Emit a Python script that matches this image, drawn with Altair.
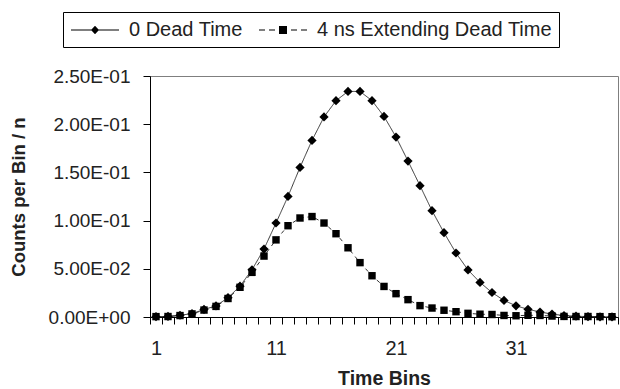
import altair as alt
import pandas as pd

# Time bin index (category axis)
bins = list(range(1, 40))

# Counts per bin / n for each dead-time model
zero_dead = [
    0.0003, 0.0006, 0.0018, 0.0035, 0.0078, 0.0115, 0.0200, 0.0320, 0.0490, 0.0705,
    0.0975, 0.1251, 0.1552, 0.1832, 0.2075, 0.2244, 0.2340, 0.2340, 0.2244, 0.2081,
    0.1867, 0.1618, 0.1362, 0.1103, 0.0875, 0.0664, 0.0488, 0.0359, 0.0254, 0.0172,
    0.0116, 0.0080, 0.0052, 0.0030, 0.0015, 0.0008, 0.0004, 0.0002, 0.0001,
]
ext_dead = [
    0.0004, 0.0005, 0.0015, 0.0032, 0.0072, 0.0110, 0.0192, 0.0308, 0.0463, 0.0632,
    0.0800, 0.0947, 0.1027, 0.1042, 0.0975, 0.0864, 0.0718, 0.0564, 0.0428, 0.0317,
    0.0242, 0.0180, 0.0118, 0.0093, 0.0070, 0.0055, 0.0038, 0.0029, 0.0026, 0.0016,
    0.0013, 0.0018, 0.0016, 0.0010, 0.0006, 0.0005, 0.0005, 0.0004, 0.0003,
]
series_names = ["0 Dead Time", "4 ns Extending Dead Time"]
y_ticks = [0, 0.05, 0.10, 0.15, 0.20, 0.25]

df = pd.DataFrame({
    "bin": bins * 2,
    "value": zero_dead + ext_dead,
    "series": [series_names[0]] * len(bins) + [series_names[1]] * len(bins),
})

FONT = "Liberation Sans"
TEXT = "#222222"

x_enc = alt.X(
    "bin:O",
    scale=alt.Scale(type="band", paddingInner=0, paddingOuter=0),
    axis=alt.Axis(
        title="Time Bins",
        tickBand="extent",
        labelAngle=0,
        labelOverlap=False,
        labelExpr="(datum.value - 1) % 10 == 0 ? datum.value : ''",
        tickSize=7,
        labelPadding=14.5,
        labelFontSize=20,
        titlePadding=11,
        titleFontSize=19.5,
    ),
)
y_enc = alt.Y(
    "value:Q",
    scale=alt.Scale(domain=[0, 0.25], nice=False),
    axis=alt.Axis(
        title="Counts per Bin / n",
        values=y_ticks,
        labelExpr="replace(replace(format(datum.value, '.2e'), 'e-', 'E-0'), 'e+', 'E+0')",
        tickSize=7,
        labelPadding=13,
        labelFontSize=19,
        titlePadding=20,
        titleFontSize=18.5,
        grid=False,
    ),
)

base = alt.Chart(df)

lines = base.mark_line(color="#333333", strokeWidth=1).encode(
    x=x_enc,
    y=y_enc,
    strokeDash=alt.StrokeDash(
        "series:N",
        scale=alt.Scale(domain=series_names, range=[[1, 0], [4, 4]]),
        legend=None,
    ),
)

points = base.mark_point(filled=True, color="black", opacity=1).encode(
    x=x_enc,
    y=y_enc,
    shape=alt.Shape(
        "series:N",
        scale=alt.Scale(domain=series_names, range=["diamond", "square"]),
        legend=None,
    ),
    size=alt.Size(
        "series:N",
        scale=alt.Scale(domain=series_names, range=[85, 55]),
        legend=None,
    ),
)

# Legend keys as filled paths (unit = 10 px at symbolSize 400):
# a thin line, solid or dashed, with the series marker in the middle
diamond_key = (
    "M-2.4,-0.05H2.4V0.05H-2.4Z"
    "M0,-0.42L0.4,0L0,0.42L-0.4,0Z"
)
square_key = (
    "M-2.4,-0.05H-1.8V0.05H-2.4Z"
    "M-1.4,-0.05H-0.8V0.05H-1.4Z"
    "M0.8,-0.05H1.4V0.05H0.8Z"
    "M1.8,-0.05H2.4V0.05H1.8Z"
    "M-0.4,-0.4H0.4V0.4H-0.4Z"
)

key = base.transform_filter("datum.bin < 0").mark_point(
    filled=True, color="black", opacity=1
).encode(
    x=x_enc,
    y=y_enc,
    shape=alt.Shape(
        "series:N",
        scale=alt.Scale(domain=series_names, range=[diamond_key, square_key]),
        legend=alt.Legend(
            title=None,
            orient="none",
            legendX=-87,
            legendY=-64,
            direction="horizontal",
            padding=7,
            symbolOffset=14,
            labelOffset=23,
            columnPadding=13,
            strokeColor="black",
            fillColor="white",
            labelFont=FONT,
            labelFontSize=20,
            labelColor=TEXT,
            labelLimit=0,
            symbolSize=400,
            symbolFillColor="black",
            symbolOpacity=1,
        ),
    ),
)

chart = (
    alt.layer(lines, points, key)
    .resolve_scale(shape="independent")
    .properties(
        width=468,
        height=241,
        autosize=alt.AutoSizeParams(type="none"),
        padding={"left": 150, "top": 76, "right": 2, "bottom": 72},
        background="white",
    )
    .configure_view(stroke="#7f7f7f", strokeWidth=1)
    .configure_axis(
        domainColor="black",
        domainWidth=1,
        tickColor="black",
        tickWidth=1,
        labelColor=TEXT,
        titleColor=TEXT,
        labelFont=FONT,
        titleFont=FONT,
        titleFontWeight="bold",
    )
)

chart.save("out.html", embed_options={"renderer": "svg", "actions": False})
